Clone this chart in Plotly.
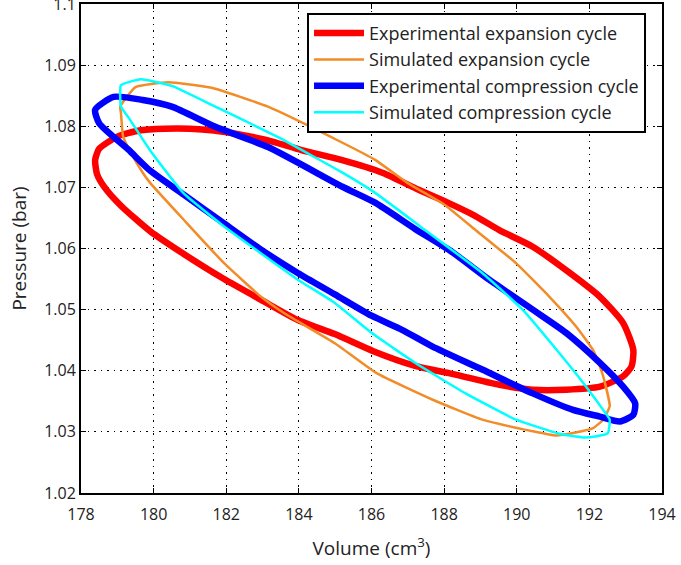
import plotly.graph_objects as go

# Experimental expansion cycle (red)
exp_exp_v = [178.39, 178.5, 179.0, 179.6, 180.3, 181.0, 181.66, 182.4, 183.15, 184.07, 185.17, 186.3,
             187.3, 188.1, 188.8, 189.52, 190.44, 191.46, 192.29, 192.93, 193.21, 193.16, 192.93, 192.29,
             191.36, 190.44, 189.52, 188.13, 187.2, 186.05, 184.99, 183.97, 182.96, 181.94, 180.83, 179.91,
             179.1, 178.65, 178.44, 178.39]
exp_exp_p = [1.0745, 1.0763, 1.0783, 1.0793, 1.0796, 1.0796, 1.0793, 1.0786, 1.0777, 1.0761, 1.0745, 1.0724,
             1.0696, 1.0675, 1.0655, 1.0630, 1.0603, 1.0560, 1.0521, 1.0478, 1.0434, 1.0407, 1.0391, 1.0374,
             1.0369, 1.0369, 1.0377, 1.0396, 1.0408, 1.0432, 1.0460, 1.0483, 1.0516, 1.0550, 1.0591, 1.0628,
             1.0670, 1.0700, 1.0722, 1.0745]

# Simulated expansion cycle (orange)
sim_exp_v = [179.08, 179.5, 180.4, 181.6, 183.15, 185.2, 186.1, 187.0, 188.0, 188.87, 189.98, 190.9,
             191.64, 192.1, 192.29, 192.38, 192.56, 192.38, 192.1, 191.55, 191.08, 190.44, 189.05, 187.67,
             186.14, 184.99, 183.6, 182.96, 181.94, 180.83, 179.91, 179.7, 179.36, 179.16, 179.1, 179.08]
sim_exp_p = [1.0832, 1.0864, 1.0872, 1.0863, 1.0832, 1.0773, 1.0745, 1.0707, 1.0672, 1.0630, 1.0576, 1.0521,
             1.0472, 1.0434, 1.0407, 1.0391, 1.0342, 1.0320, 1.0306, 1.0298, 1.0294, 1.0301, 1.0320, 1.0353,
             1.0396, 1.0445, 1.0494, 1.0521, 1.0576, 1.0647, 1.0707, 1.0724, 1.0758, 1.0783, 1.0822, 1.0832]

# Experimental compression cycle (blue)
exp_cmp_v = [178.39, 178.9, 179.7, 180.5, 181.7, 183.15, 185.2, 186.1, 187.2, 188.13, 189.24, 190.44,
             191.36, 192.29, 192.93, 193.26, 193.21, 192.84, 192.29, 191.55, 190.44, 189.05, 187.67, 186.84,
             186.0, 184.99, 183.97, 182.96, 181.94, 180.83, 179.91, 179.3, 178.5, 178.39]
exp_cmp_p = [1.0827, 1.0848, 1.0843, 1.0832, 1.0799, 1.0766, 1.0701, 1.0675, 1.0632, 1.0598, 1.0549, 1.0500,
             1.0462, 1.0413, 1.0374, 1.0347, 1.0328, 1.0317, 1.0325, 1.0336, 1.0363, 1.0402, 1.0440, 1.0467,
             1.0490, 1.0525, 1.0560, 1.0598, 1.0641, 1.0688, 1.0727, 1.0762, 1.0805, 1.0827]

# Simulated compression cycle (cyan)
sim_cmp_v = [179.1, 179.1, 179.65, 180.5, 181.7, 183.4, 185.2, 186.1, 187.48, 189.05, 190.16, 191.17,
             191.91, 192.38, 192.56, 192.51, 192.2, 191.82, 191.17, 189.98, 188.59, 187.2, 186.0, 184.99,
             183.97, 182.96, 181.94, 180.83, 179.91, 179.3, 179.1]
sim_cmp_p = [1.0832, 1.0867, 1.0877, 1.0866, 1.0832, 1.0783, 1.0724, 1.0691, 1.0630, 1.0560, 1.0500, 1.0429,
             1.0374, 1.0336, 1.0320, 1.0298, 1.0293, 1.0291, 1.0297, 1.0320, 1.0363, 1.0413, 1.0462, 1.0511,
             1.0549, 1.0592, 1.0636, 1.0690, 1.0760, 1.0815, 1.0832]

x_ticks = [178, 180, 182, 184, 186, 188, 190, 192, 194]
y_ticks = [1.02, 1.03, 1.04, 1.05, 1.06, 1.07, 1.08, 1.09, 1.1]
y_tick_text = ["1.02", "1.03", "1.04", "1.05", "1.06", "1.07", "1.08", "1.09", "1.1"]

FONT = "Open Sans"

fig = go.Figure()
fig.add_trace(go.Scatter(x=exp_exp_v, y=exp_exp_p, mode="lines", name="Experimental expansion cycle",
                         legendgroup="a",
                         line=dict(color="#ff0000", width=6.5, shape="spline", smoothing=0.6)))
fig.add_trace(go.Scatter(x=sim_exp_v, y=sim_exp_p, mode="lines", name="Simulated expansion cycle",
                         legendgroup="b",
                         line=dict(color="#f28c28", width=2.5, shape="spline", smoothing=0.4)))
fig.add_trace(go.Scatter(x=exp_cmp_v, y=exp_cmp_p, mode="lines", name="Experimental compression cycle",
                         legendgroup="c",
                         line=dict(color="#0000ff", width=6.5, shape="spline", smoothing=0.6)))
fig.add_trace(go.Scatter(x=sim_cmp_v, y=sim_cmp_p, mode="lines", name="Simulated compression cycle",
                         legendgroup="d",
                         line=dict(color="#00ffff", width=2.5, shape="spline", smoothing=0.4)))

axis_common = dict(showline=True, linecolor="black", linewidth=2, mirror="allticks",
                   ticks="inside", ticklen=5, tickcolor="black", tickwidth=1,
                   showgrid=True, gridcolor="black", gridwidth=1, griddash="1.5px,5px",
                   zeroline=False, automargin=False, ticklabeloverflow="allow",
                   tickfont=dict(family=FONT, size=16, color="#222"))

fig.update_layout(
    width=681, height=565,
    margin=dict(l=81, r=19, t=4, b=72),
    paper_bgcolor="white", plot_bgcolor="white",
    font=dict(family=FONT, color="#222"),
    xaxis=dict(range=[178, 194], tickvals=x_ticks, ticktext=[str(v) for v in x_ticks],
               ticklabelstandoff=6,
               title=dict(text="Volume (cm<sup>3</sup>)", font=dict(family=FONT, size=19), standoff=17),
               **axis_common),
    yaxis=dict(range=[1.02, 1.1], tickvals=y_ticks, ticktext=y_tick_text,
               title=dict(text="Pressure (bar)", font=dict(family=FONT, size=19), standoff=12),
               **axis_common),
    legend=dict(x=0.389, y=0.982, xanchor="left", yanchor="top",
                bgcolor="white", bordercolor="black", borderwidth=2,
                font=dict(family=FONT, size=18, color="#222"),
                itemwidth=50, tracegroupgap=0),
    showlegend=True,
)

fig.write_html("out.html", config={"displayModeBar": False},
               post_script="document.body.style.margin='0';document.body.style.overflow='hidden';")
